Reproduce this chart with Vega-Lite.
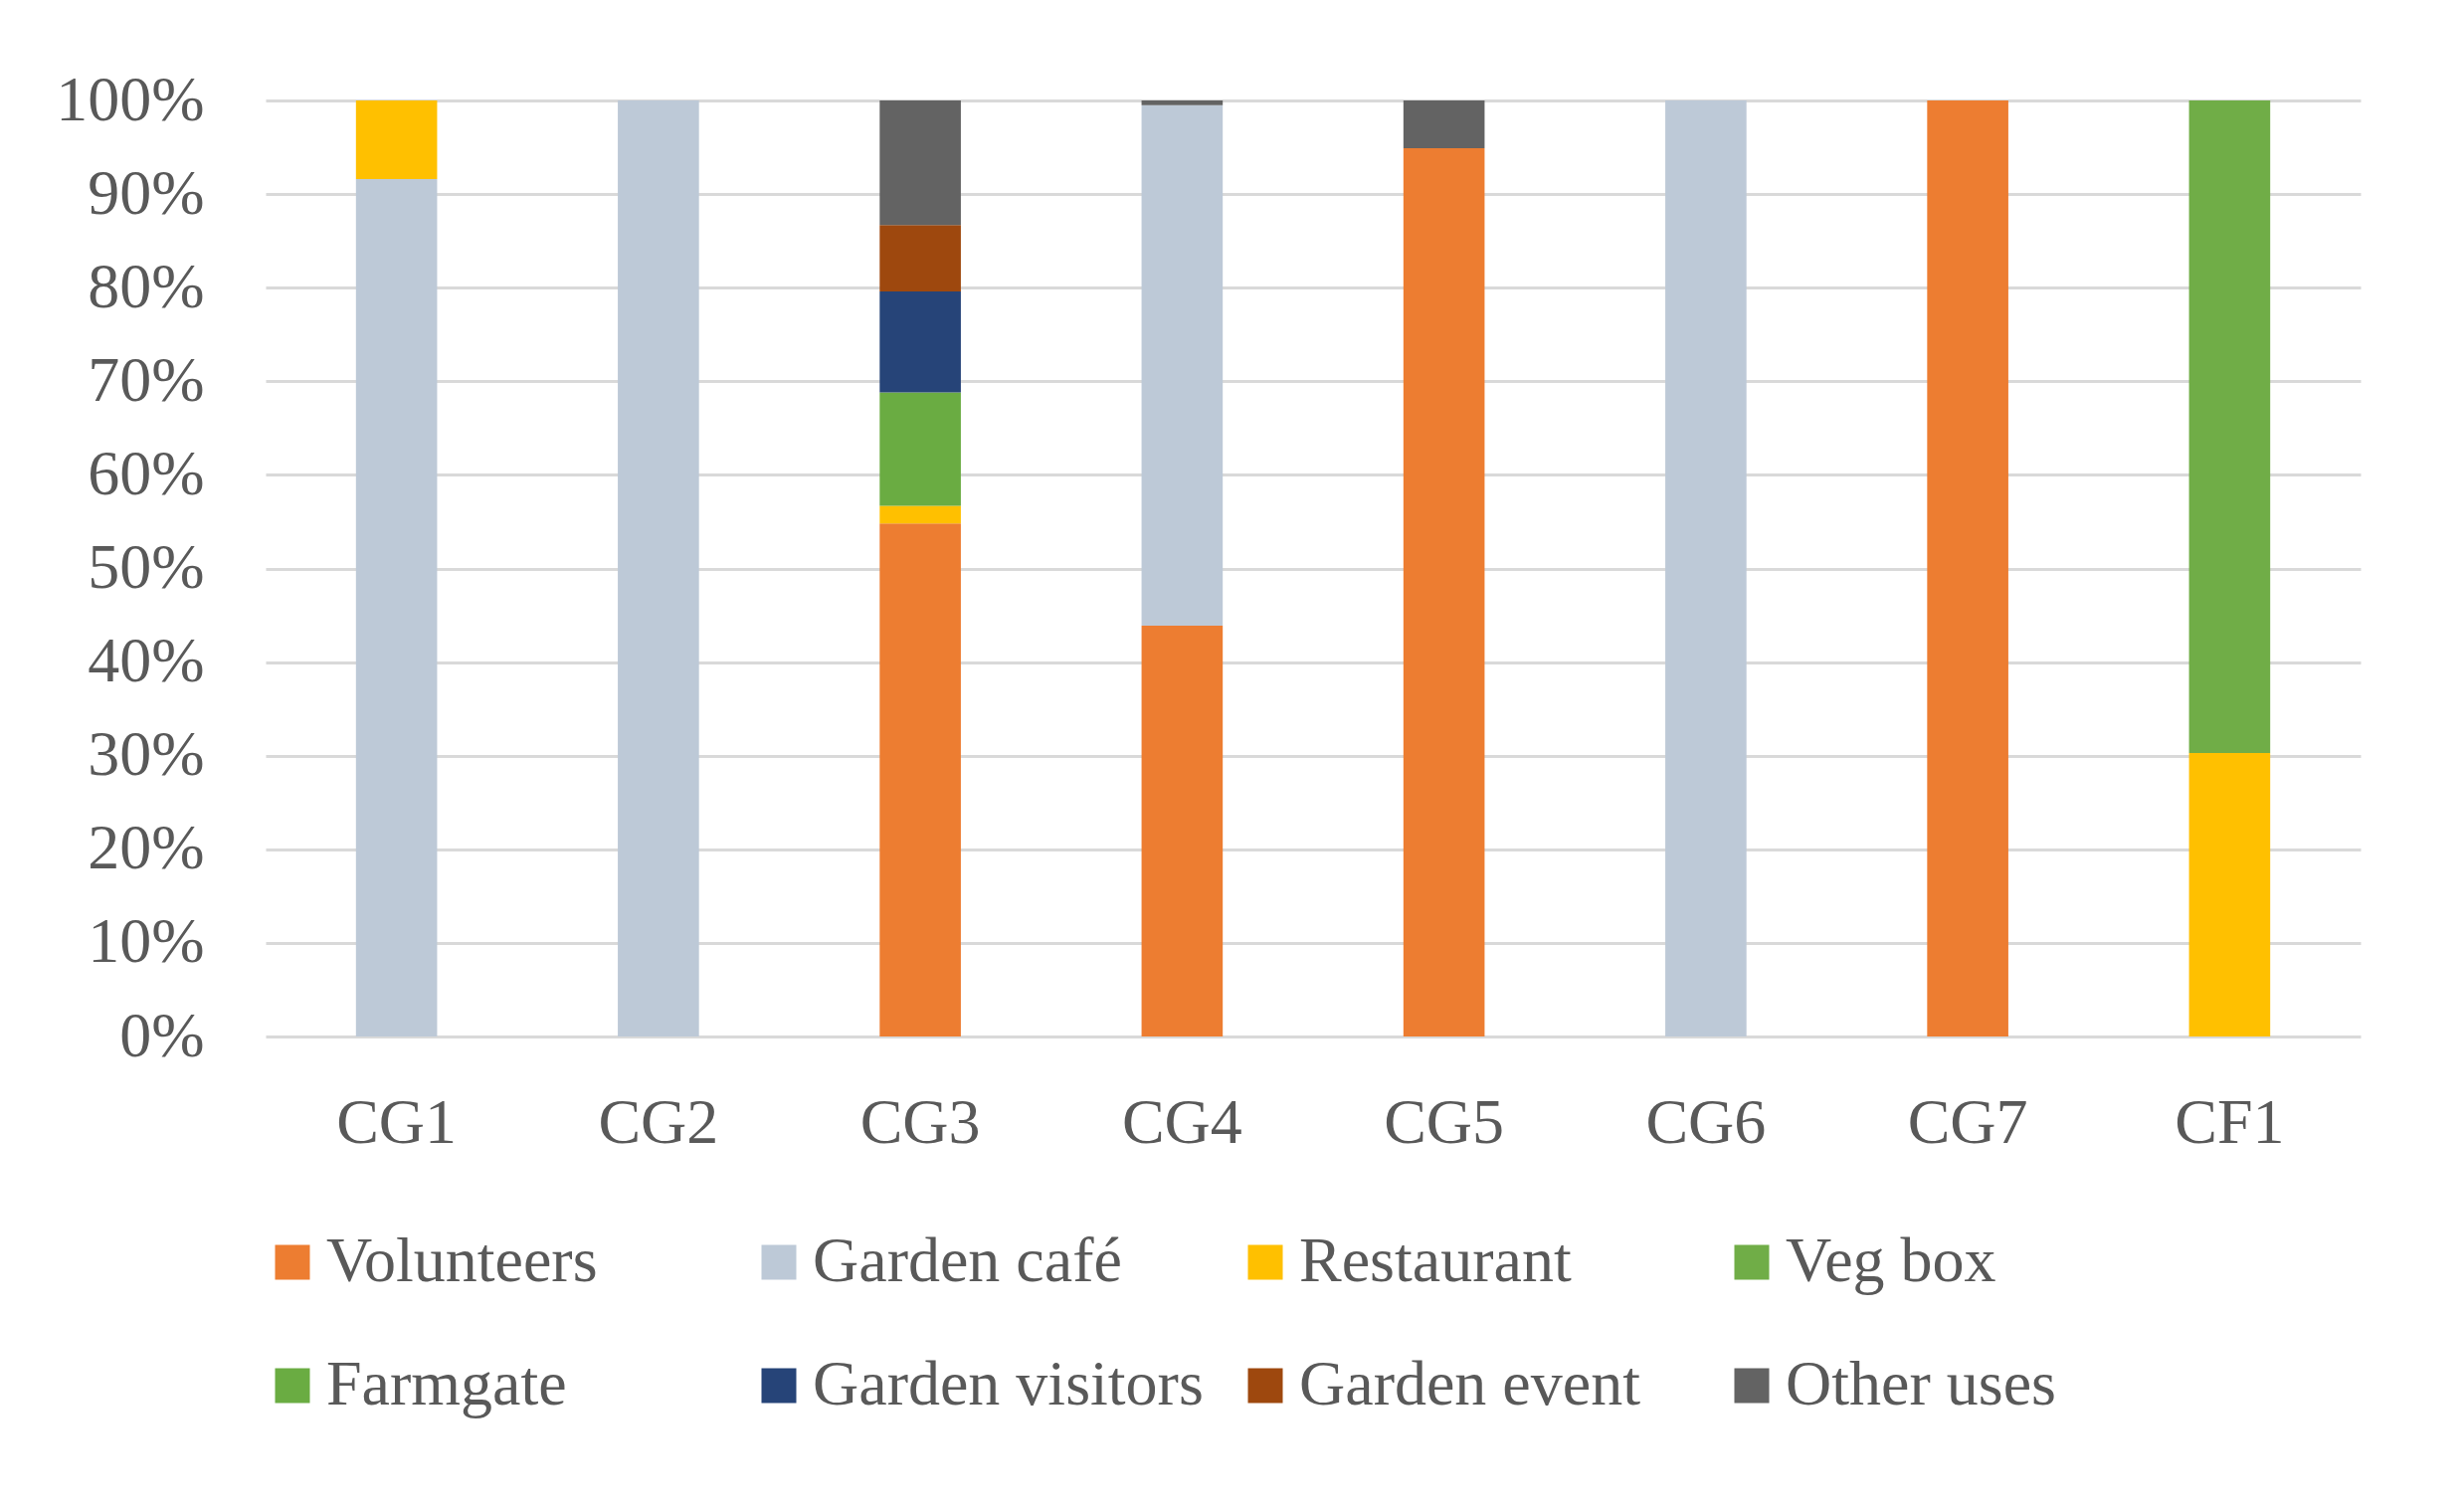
{
  "$schema": "https://vega.github.io/schema/vega-lite/v6.json",
  "autosize": "none",
  "width": 2106,
  "height": 941,
  "padding": {"left": 267, "top": 101, "right": 104, "bottom": 472},
  "background": "white",
  "config": {
    "font": "Liberation Serif",
    "view": {"stroke": null},
    "axis": {"labelFont": "Liberation Serif", "labelFontSize": 64, "labelColor": "#595959", "domain": false, "ticks": false, "tickSize": 0, "title": null},
    "legend": {"labelFont": "Liberation Serif", "labelFontSize": 64, "labelColor": "#595959"}
  },
  "datasets": {
    "uses": [
      {"use": "Volunteers", "rank": 1},
      {"use": "Garden café", "rank": 2},
      {"use": "Restaurant", "rank": 3},
      {"use": "Veg box", "rank": 4},
      {"use": "Farmgate", "rank": 5},
      {"use": "Garden visitors", "rank": 6},
      {"use": "Garden event", "rank": 7},
      {"use": "Other uses", "rank": 8}
    ],
    "shares": [
      {"site": "CG1", "use": "Garden café", "share": 0.916},
      {"site": "CG1", "use": "Restaurant", "share": 0.084},
      {"site": "CG2", "use": "Garden café", "share": 1.0},
      {"site": "CG3", "use": "Volunteers", "share": 0.548},
      {"site": "CG3", "use": "Restaurant", "share": 0.019},
      {"site": "CG3", "use": "Farmgate", "share": 0.121},
      {"site": "CG3", "use": "Garden visitors", "share": 0.108},
      {"site": "CG3", "use": "Garden event", "share": 0.071},
      {"site": "CG3", "use": "Other uses", "share": 0.133},
      {"site": "CG4", "use": "Volunteers", "share": 0.439},
      {"site": "CG4", "use": "Garden café", "share": 0.556},
      {"site": "CG4", "use": "Other uses", "share": 0.005},
      {"site": "CG5", "use": "Volunteers", "share": 0.949},
      {"site": "CG5", "use": "Other uses", "share": 0.051},
      {"site": "CG6", "use": "Garden café", "share": 1.0},
      {"site": "CG7", "use": "Volunteers", "share": 1.0},
      {"site": "CF1", "use": "Restaurant", "share": 0.303},
      {"site": "CF1", "use": "Veg box", "share": 0.697}
    ]
  },
  "data": {"name": "shares"},
  "transform": [
    {"lookup": "use", "from": {"data": {"name": "uses"}, "key": "use", "fields": ["rank"]}}
  ],
  "mark": {"type": "bar"},
  "encoding": {
    "x": {
      "field": "site", "type": "nominal",
      "sort": ["CG1", "CG2", "CG3", "CG4", "CG5", "CG6", "CG7", "CF1"],
      "scale": {"paddingInner": 0.69, "paddingOuter": 0.345},
      "axis": {"labelAngle": 0, "labelPadding": 55, "grid": false}
    },
    "y": {
      "field": "share", "type": "quantitative", "stack": "zero",
      "scale": {"domain": [0, 1], "nice": false},
      "axis": {"format": ".0%", "values": [0, 0.1, 0.2, 0.3, 0.4, 0.5, 0.6, 0.7, 0.8, 0.9, 1.0], "labelPadding": 62, "grid": true, "gridColor": "#d9d9d9", "gridWidth": 3}
    },
    "color": {
      "field": "use", "type": "nominal",
      "scale": {
        "domain": ["Volunteers", "Garden café", "Restaurant", "Veg box", "Farmgate", "Garden visitors", "Garden event", "Other uses"],
        "range": ["#ED7D31", "#BDC9D7", "#FFC000", "#70AD47", "#6AAC42", "#264478", "#9E480E", "#636363"]
      },
      "legend": {
        "title": null, "orient": "none", "legendX": -5, "legendY": 1136,
        "direction": "horizontal", "columns": 4, "gridAlign": "all",
        "symbolType": "square", "symbolSize": 1225, "symbolStrokeWidth": 0,
        "labelOffset": 2, "columnPadding": 30, "rowPadding": 60, "padding": 0,
        "labelLimit": 800
      }
    },
    "order": {"field": "rank", "type": "quantitative", "sort": "ascending"}
  }
}
